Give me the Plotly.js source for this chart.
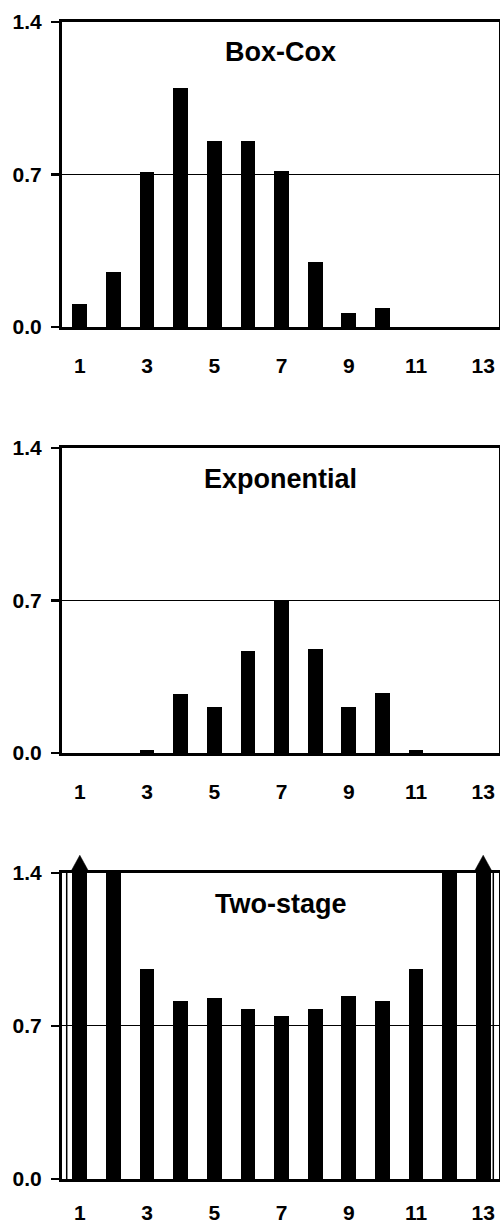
<!DOCTYPE html>
<html>
<head>
<meta charset="utf-8">
<script src="https://cdn.plot.ly/plotly-3.0.1.min.js"></script>
<style>
  html, body { margin: 0; padding: 0; background: #fff; }
  #chart { width: 500px; height: 1225px; }
</style>
</head>
<body>
<div id="chart"></div>
<script>
// ---- Data ----
const positions = [1, 2, 3, 4, 5, 6, 7, 8, 9, 10, 11, 12, 13];
const xTickVals = [1, 3, 5, 7, 9, 11, 13];
const xTickText = ['1', '3', '5', '7', '9', '11', '13'];
const yTickVals = [0, 0.7, 1.4];
const yTickText = ['0.0', '0.7', '1.4'];
const panelTitles = ['Box-Cox', 'Exponential', 'Two-stage'];
const boxCox = [0.106, 0.251, 0.710, 1.095, 0.853, 0.853, 0.715, 0.300, 0.064, 0.087, 0, 0, 0];
const exponential = [0, 0, 0.012, 0.269, 0.209, 0.468, 0.700, 0.476, 0.209, 0.275, 0.012, 0, 0];
const twoStage = [1.6, 1.4, 0.960, 0.813, 0.830, 0.777, 0.746, 0.777, 0.836, 0.813, 0.960, 1.4, 1.6];
const series = [boxCox, exponential, twoStage];
const yMax = 1.4;

// ---- Styling ----
const FONT = 'Arial, "Liberation Sans", Helvetica, sans-serif';
const domains = [[0.7364, 1], [0.3682, 0.6318], [0, 0.2645]];
const suffix = ['', '2', '3'];
const xStandoff = [18, 18, 13];

const layout = {
  width: 500,
  height: 1225,
  margin: { l: 62, r: 1, t: 22, b: 46 },
  paper_bgcolor: '#fff',
  plot_bgcolor: '#fff',
  showlegend: false,
  bargap: 0,
  font: { family: FONT, color: '#000' },
  annotations: [],
  shapes: []
};

const traces = [];
series.forEach((vals, i) => {
  const s = suffix[i];
  traces.push({
    type: 'bar',
    x: positions,
    y: vals,
    width: 0.44,
    marker: { color: '#000', line: { width: 0 } },
    xaxis: 'x' + s,
    yaxis: 'y' + s,
    hoverinfo: 'x+y',
    showlegend: false
  });
  // overflow arrow heads for values beyond the axis range
  vals.forEach((v, k) => {
    if (v > yMax) {
      const p = positions[k];
      layout.shapes.push({
        type: 'path',
        xref: 'x' + s,
        yref: 'y' + s + ' domain',
        path: 'M ' + (p - 0.27) + ',1.004 L ' + (p + 0.27) + ',1.004 L ' + p + ',1.058 Z',
        fillcolor: '#000',
        line: { color: '#000', width: 0.5 },
        layer: 'above'
      });
    }
  });
});

for (let i = 0; i < 3; i++) {
  const s = suffix[i];
  layout['xaxis' + s] = {
    domain: [0, 1],
    anchor: 'y' + s,
    range: [0.47, 13.47],
    tickmode: 'array',
    tickvals: xTickVals,
    ticktext: xTickText,
    ticks: '',
    ticklabelstandoff: xStandoff[i],
    showgrid: false,
    zeroline: false,
    showline: true,
    linewidth: 3,
    linecolor: '#000',
    mirror: true,
    tickfont: { family: FONT, size: 21, weight: 'bold', color: '#000' },
    fixedrange: true
  };
  layout['yaxis' + s] = {
    domain: domains[i],
    anchor: 'x' + s,
    range: [0, yMax],
    tickmode: 'array',
    tickvals: yTickVals,
    ticktext: yTickText,
    ticks: 'outside',
    ticklen: 8,
    tickwidth: 2.5,
    tickcolor: '#000',
    ticklabelstandoff: 5,
    showgrid: true,
    gridcolor: '#000',
    gridwidth: 1,
    zeroline: false,
    showline: true,
    linewidth: 3,
    linecolor: '#000',
    mirror: true,
    tickfont: { family: FONT, size: 21, weight: 'bold', color: '#000' },
    fixedrange: true
  };
  layout.annotations.push({
    text: panelTitles[i],
    xref: 'paper', x: 0.5, xanchor: 'center',
    yref: 'y' + s + ' domain', y: 0.90, yanchor: 'middle',
    showarrow: false,
    font: { family: FONT, size: 27, weight: 'bold', color: '#000' }
  });
}

// thin edge rules in the two-stage panel
layout.shapes.push({ type: 'line', xref: 'x3', x0: 0.61, x1: 0.61, yref: 'y3 domain', y0: 0, y1: 1, line: { color: '#000', width: 1.5 } });
layout.shapes.push({ type: 'line', xref: 'x3', x0: 13.3, x1: 13.3, yref: 'y3 domain', y0: 0, y1: 1, line: { color: '#000', width: 1.5 } });

Plotly.newPlot('chart', traces, layout, { displayModeBar: false, staticPlot: true });
</script>
</body>
</html>
